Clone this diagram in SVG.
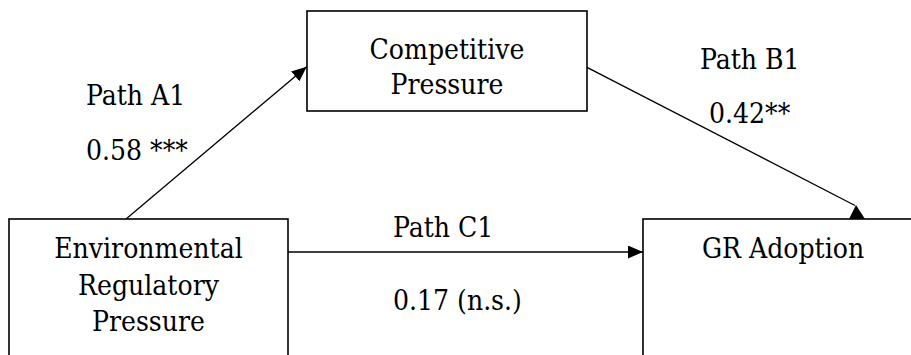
<svg xmlns="http://www.w3.org/2000/svg" width="911" height="355" viewBox="0 0 911 355">
<style>
.t{font-family:'DejaVu Serif Condensed','DejaVu Serif',serif;font-stretch:condensed;font-size:28px;fill:#000}
.box{fill:#fff;stroke:#000;stroke-width:1.6}
.conn{stroke:#000;stroke-width:1.3;fill:none}
</style>
<defs>
<marker id="arr" markerUnits="userSpaceOnUse" markerWidth="16" markerHeight="14" refX="15" refY="6.5" orient="auto">
<path d="M0,0 L15,6.5 L0,13 Z" fill="#000"/>
</marker>
</defs>
<rect width="911" height="355" fill="#fff"/>
<g id="connectors">
<line class="conn" x1="126" y1="219" x2="306.7" y2="66.7" marker-end="url(#arr)"/>
<line class="conn" x1="288" y1="252" x2="643" y2="252" marker-end="url(#arr)"/>
<line class="conn" x1="587" y1="67.3" x2="855" y2="205.5"/>
<polygon points="849,219 856,205 865,219" fill="#000"/>
</g>
<g id="node-competitive">
<rect class="box" x="307" y="11" width="280" height="100"/>
<text class="t" x="447" y="59" text-anchor="middle">Competitive</text>
<text class="t" x="447" y="94" text-anchor="middle">Pressure</text>
</g>
<g id="node-environmental">
<rect class="box" x="9" y="219" width="279" height="160"/>
<text class="t" x="148.5" y="258" text-anchor="middle">Environmental</text>
<text class="t" x="148.5" y="295" text-anchor="middle">Regulatory</text>
<text class="t" x="148.5" y="331" text-anchor="middle">Pressure</text>
</g>
<g id="node-gr">
<rect class="box" x="643" y="219" width="300" height="160"/>
<text class="t" x="783" y="258" text-anchor="middle">GR Adoption</text>
</g>
<g id="labels">
<text class="t" x="86" y="105">Path A1</text>
<text class="t" x="86" y="160">0.58 ***</text>
<text class="t" x="700" y="69">Path B1</text>
<text class="t" x="709" y="123">0.42**</text>
<text class="t" x="393" y="237">Path C1</text>
<text class="t" x="393" y="310">0.17 (n.s.)</text>
</g>
</svg>
